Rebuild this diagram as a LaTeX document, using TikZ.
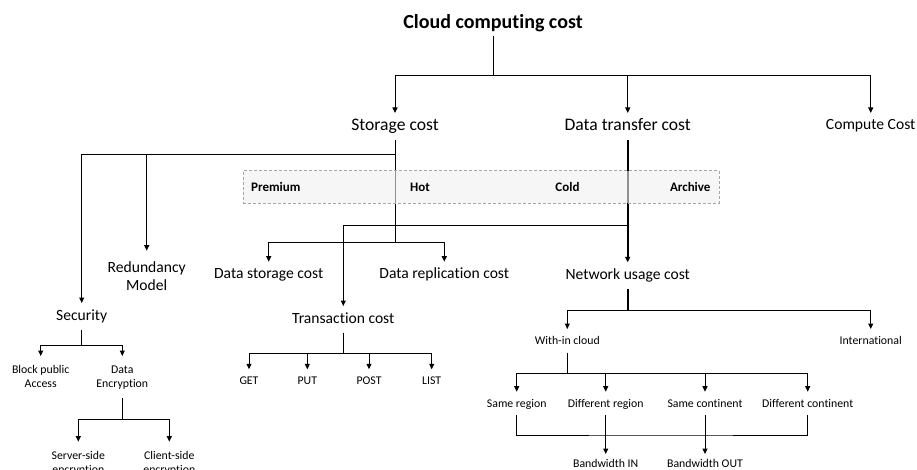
\documentclass[tikz,border=0pt]{standalone}
\usepackage{fontspec}
\setmainfont{Carlito}[Ligatures=NoCommon]
\usetikzlibrary{arrows.meta}

\begin{document}
\begin{tikzpicture}[x=1pt,y=-1pt,line width=1pt,
  arr/.style={-{Triangle[length=5.5pt,width=5pt]}},
  heavy/.style={line width=1.8pt},
  top/.style={font=\fontsize{20}{24}\selectfont\bfseries},
  big/.style={font=\fontsize{17.6}{21}\selectfont,anchor=north,inner ysep=9.5pt,text height=0.75em,text depth=0pt},
  mid/.style={font=\fontsize{15.6}{18.7}\selectfont,anchor=north,inner ysep=9pt,text height=0.75em,text depth=0pt},
  sml/.style={font=\fontsize{11.8}{14}\selectfont,anchor=north,inner ysep=7.5pt,text height=0.75em,text depth=0pt},
  midtwo/.style={font=\fontsize{15.6}{18.7}\selectfont,anchor=north,inner ysep=10pt,align=center},
  smltwo/.style={font=\fontsize{11.8}{14}\selectfont,anchor=north,inner ysep=9pt,align=center},
  band/.style={draw=gray!70,dash pattern=on 3pt off 2pt,line width=0.8pt,fill=gray!12,fill opacity=0.6,
    minimum width=475.7pt,minimum height=32.6pt,inner sep=0pt},
  tier/.style={font=\fontsize{13}{15}\selectfont\bfseries,inner sep=0pt}]
\useasboundingbox (0,0) rectangle (917,470);
\clip (0,0) rectangle (917,470);

\node[top] (cloud) at (493,23) {Cloud computing cost};
\node[big] (stor) at (395,113) {Storage cost};
\node[big] (xfer) at (627.7,113) {Data transfer cost};
\node[mid] (comp) at (870.7,113) {Compute Cost};

\node[midtwo] (redun) at (146.7,250.7) {Redundancy\\Model};
\node[mid] (sec) at (81.7,303) {Security};
\node[smltwo] (block) at (40.7,356) {Block public\\Access};
\node[smltwo] (enc) at (122.3,356) {Data\\Encryption};
\node[smltwo] (server) at (78.3,441.7) {Server-side\\encryption};
\node[smltwo] (client) at (169.3,441.7) {Client-side\\encryption};

\node[mid] (dstor) at (268.7,261.7) {Data storage cost};
\node[mid] (drep) at (444.3,261.7) {Data replication cost};
\node[mid] (trans) at (343.3,306) {Transaction cost};
\node[sml] (get) at (249,369.3) {GET};
\node[sml] (put) at (307.3,369.3) {PUT};
\node[sml] (post) at (369,369.3) {POST};
\node[sml] (list) at (431.7,369.3) {LIST};

\node[mid] (net) at (627.7,262.3) {Network usage cost};
\node[sml] (within) at (567.3,329) {With-in cloud};
\node[sml] (intl) at (870.7,329) {International};
\node[sml] (samereg) at (516.7,391.7) {Same region};
\node[sml] (diffreg) at (605.7,391.7) {Different region};
\node[sml] (samecon) at (705,391.7) {Same continent};
\node[sml] (diffcon) at (807.7,391.7) {Different continent};
\node[sml,inner ysep=5.5pt] (bwin) at (605.7,454) {Bandwidth IN};
\node[sml,inner ysep=5.5pt] (bwout) at (705,454) {Bandwidth OUT};

\coordinate (j0) at (493,76);
\coordinate (j1) at (395,154.5);
\coordinate (j2) at (395,242);
\coordinate (j3) at (627.7,226);
\coordinate (j4) at (627.7,310);
\coordinate (j5) at (567.3,373);
\coordinate (j6) at (660,435);
\coordinate (j7) at (81.7,345);
\coordinate (j8) at (122.3,419.3);
\coordinate (j9) at (343.3,353);

\draw (cloud.south) -- (j0);
\foreach \n in {stor,xfer,comp}
  \draw[arr] (j0) -| (\n.north);

\draw (stor.south) -- (j2);
\draw[arr] (j1) -| (redun.north);
\draw[arr] (j1) -| (sec.north);
\draw[arr] (j2) -| (dstor.north);
\draw[arr] (j2) -| (drep.north);

\draw[arr,heavy] (xfer.south) -- (net.north);
\draw[arr] (j3) -| (trans.north);

\draw (sec.south) -- (j7);
\draw[arr] (j7) -| (block.north);
\draw[arr] (j7) -| (enc.north);
\draw (enc.south) -- (j8);
\draw[arr] (j8) -| (server.north);
\draw[arr] (j8) -| (client.north);

\draw (trans.south) -- (j9);
\foreach \n in {get,put,post,list}
  \draw[arr] (j9) -| (\n.north);

\draw[heavy] (net.south) -- (j4);
\draw[arr] (j4) -| (within.north);
\draw[arr] (j4) -| (intl.north);
\draw (within.south) -- (j5);
\foreach \n in {samereg,diffreg,samecon,diffcon}
  \draw[arr] (j5) -| (\n.north);
\draw (samereg.south) |- (j6) -| (diffcon.south);
\draw[arr] (diffreg.south) -- (bwin.north);
\draw[arr] (samecon.south) -- (bwout.north);

\node[band] (tiers) at (481.15,187) {};
\node[tier,anchor=west] (prem) at (250.7,187) {Premium};
\node[tier] (hot) at (420,187) {Hot};
\node[tier] (cold) at (567.5,187) {Cold};
\node[tier,anchor=east] (arch) at (711,187) {Archive};
\end{tikzpicture}
\end{document}
